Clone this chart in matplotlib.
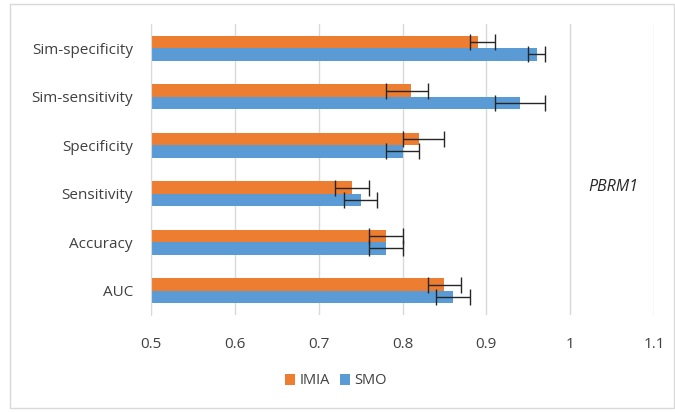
import numpy as np
import matplotlib.pyplot as plt
from matplotlib.patches import Rectangle

# Data (bottom to top)
categories = ["AUC", "Accuracy", "Sensitivity", "Specificity",
              "Sim-sensitivity", "Sim-specificity"]
imia_vals = [0.85, 0.78, 0.74, 0.82, 0.81, 0.89]
imia_lo = [0.83, 0.76, 0.72, 0.80, 0.78, 0.88]
imia_hi = [0.87, 0.80, 0.76, 0.85, 0.83, 0.91]
smo_vals = [0.86, 0.78, 0.75, 0.80, 0.94, 0.96]
smo_lo = [0.84, 0.76, 0.73, 0.78, 0.91, 0.95]
smo_hi = [0.88, 0.80, 0.77, 0.82, 0.97, 0.97]
x_ticks = [0.5, 0.6, 0.7, 0.8, 0.9, 1.0, 1.1]
x_tick_labels = ["0.5", "0.6", "0.7", "0.8", "0.9", "1", "1.1"]

ORANGE = "#ED7D31"
BLUE = "#5B9BD5"
TEXT = "#404040"

plt.rcParams["font.family"] = ["Open Sans", "DejaVu Sans"]

fig = plt.figure(figsize=(6.75, 4.12), dpi=100)
ax = fig.add_axes([151 / 675, 1 - 315 / 412, (654 - 151) / 675, (315 - 24) / 412])

y = np.arange(len(categories))
h = 0.255


def errs(vals, lo, hi):
    vals = np.array(vals)
    return [vals - np.array(lo), np.array(hi) - vals]


ax.barh(y - h / 2, smo_vals, height=h, left=0, color=BLUE, label="SMO", zorder=2)
ax.barh(y + h / 2, imia_vals, height=h, left=0, color=ORANGE, label="IMIA", zorder=2)
ax.errorbar(smo_vals, y - h / 2, xerr=errs(smo_vals, smo_lo, smo_hi), fmt="none",
            ecolor="#262626", elinewidth=1, capsize=5.5, capthick=1, zorder=3)
ax.errorbar(imia_vals, y + h / 2, xerr=errs(imia_vals, imia_lo, imia_hi), fmt="none",
            ecolor="#262626", elinewidth=1, capsize=5.5, capthick=1, zorder=3)

ax.set_xlim(0.5, 1.1)
ax.set_ylim(-0.5, len(categories) - 0.5)
ax.set_xticks(x_ticks)
ax.set_xticklabels(x_tick_labels)
ax.set_yticks(y)
ax.set_yticklabels(categories)
ax.tick_params(axis="both", length=0, labelsize=11, labelcolor=TEXT)
ax.tick_params(axis="x", pad=16)
ax.tick_params(axis="y", pad=13)
ax.grid(axis="x", color="#D9D9D9", linewidth=1, zorder=0)
for s in ["top", "right", "bottom"]:
    ax.spines[s].set_visible(False)
ax.spines["left"].set_color("#D9D9D9")
ax.spines["left"].set_zorder(4)

ax.text(613 / 675, 1 - 187 / 412, "PBRM1", transform=fig.transFigure,
        fontsize=11.5, style="italic", color="#262626", ha="center", va="center")

handles, labels = ax.get_legend_handles_labels()
fig.legend(handles[::-1], labels[::-1], loc="center", bbox_to_anchor=(336 / 675, 1 - 381 / 412),
           ncol=2, frameon=False, fontsize=10.5, handlelength=0.7, handleheight=0.7,
           handletextpad=0.3, columnspacing=0.7, labelcolor=TEXT)

fig.patches.append(Rectangle((10 / 675, 4 / 412), 664 / 675, 404 / 412,
                             transform=fig.transFigure, fill=False,
                             edgecolor="#D9D9D9", linewidth=1))

fig.savefig("out.png", dpi=100)
